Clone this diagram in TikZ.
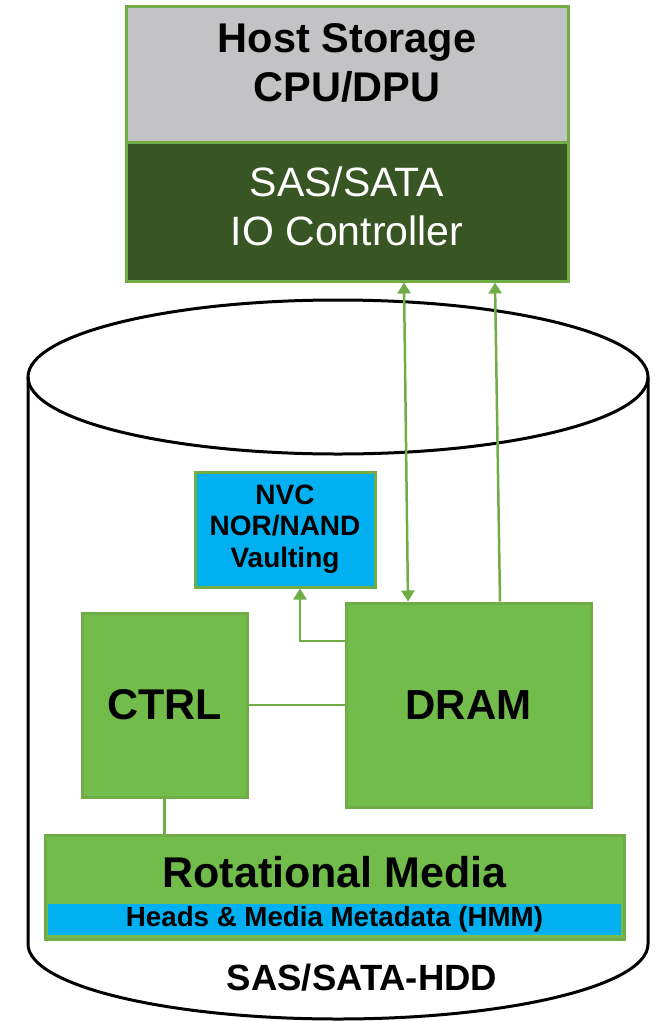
\documentclass[tikz,border=0pt]{standalone}
\usepackage{fontspec}
\setmainfont{Liberation Sans}
\usetikzlibrary{arrows.meta,calc}
\definecolor{gborder}{RGB}{112,173,71}
\definecolor{gfill}{RGB}{113,188,74}
\definecolor{dgreen}{RGB}{55,86,35}
\definecolor{hgrey}{RGB}{195,195,197}
\definecolor{hblue}{RGB}{0,176,240}
\tikzset{
  box/.style={draw=gborder, line width=3pt, rectangle, inner sep=0pt, align=center},
  conn/.style={draw=gborder, line width=2.5pt},
  gtip/.style={-{Triangle[length=11pt,width=13pt]}},
  gboth/.style={{Triangle[length=11pt,width=13pt]}-{Triangle[length=11pt,width=13pt]}},
  cyl/.style={draw=black, line width=3pt}
}
\begin{document}
\begin{tikzpicture}[x=1pt,y=-1pt]
\useasboundingbox (0,0) rectangle (657,1021);
% cylinder
\draw[cyl] (338,377) ellipse [x radius=310pt, y radius=77pt];
\draw[cyl] (28,377) -- (28,944) arc[start angle=180, end angle=360, x radius=310pt, y radius=75pt] -- (648,377);
% host
\node[box, fill=hgrey, minimum width=442pt, minimum height=136pt,
      font=\fontsize{41.5}{49}\selectfont\bfseries, text depth=23.7pt] (host) at (347,74) {Host Storage\\CPU/DPU};
\node[box, fill=dgreen, text=white, minimum width=442pt, minimum height=139pt,
      font=\fontsize{41}{49}\selectfont, text depth=10.3pt] (io) at (347,211.5) {SAS/SATA\\IO Controller};
% internals
\node[box, fill=hblue, minimum width=180pt, minimum height=115pt,
      font=\fontsize{28}{31.5}\selectfont\bfseries, text depth=6.7pt] (nvc) at (285,529.5) {NVC\\NOR/NAND\\Vaulting};
\node[box, fill=gfill, minimum width=165pt, minimum height=184pt,
      font=\fontsize{43}{50}\selectfont\bfseries] (ctrl) at (164.5,705) {CTRL};
\node[box, fill=gfill, minimum width=245pt, minimum height=204pt,
      font=\fontsize{42}{50}\selectfont\bfseries] (dram) at (468.5,705) {DRAM};
\node[box, fill=gfill, minimum width=579pt, minimum height=104pt] (rot) at (334.5,887) {};
\node[anchor=base, inner sep=0pt, font=\fontsize{43}{50}\selectfont\bfseries] (rotlbl) at (334.5,887) {Rotational Media};
\node[rectangle, fill=hblue, inner sep=0pt, minimum width=573pt, minimum height=31pt,
      font=\fontsize{27.7}{30}\selectfont\bfseries] (hmm) at (334.5,919.5) {Heads \& Media Metadata (HMM)};
\node[anchor=base, inner sep=0pt, font=\fontsize{36.5}{42}\selectfont\bfseries] (hdd) at (362,990) {SAS/SATA-HDD};
% connectors
\draw[conn, gboth] ([xshift=57pt]io.south) -- ([xshift=-60.5pt]dram.north);
\draw[conn, gtip] ([xshift=31.5pt]dram.north) -- ([xshift=148pt]io.south);
\draw[conn, gtip] ([yshift=64pt]dram.west) -| ([xshift=15pt]nvc.south);
\draw[conn] (ctrl.east) -- (dram.west);
\draw[conn] (ctrl.south) -- (ctrl.south |- rot.north);
\end{tikzpicture}
\end{document}
